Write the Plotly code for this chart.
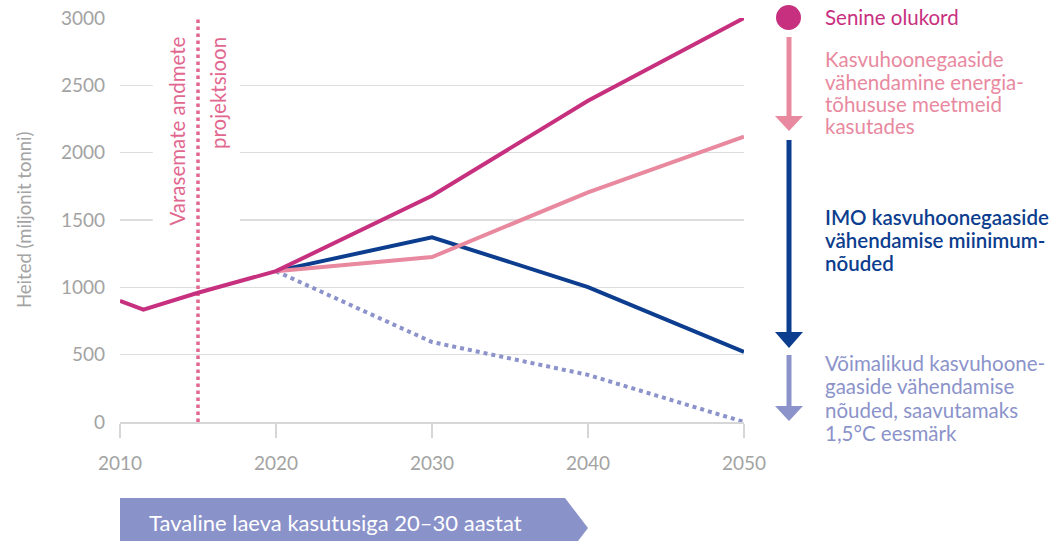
import plotly.graph_objects as go

# ---- data ----
years_hist = [2010, 2011.5, 2015, 2020]
senine_hist = [900, 835, 960, 1120]
years_proj = [2020, 2030, 2040, 2050]
senine_proj = [1120, 1680, 2385, 3000]
efficiency = [1120, 1225, 1705, 2120]
imo_min = [1120, 1372, 1002, 520]
paris_15 = [1120, 594, 350, 0]
projection_year = 2015
x_ticks = [2010, 2020, 2030, 2040, 2050]
y_ticks = [0, 500, 1000, 1500, 2000, 2500, 3000]

C_MAG = "#C7307F"
C_PINK = "#E8899F"
C_NAVY = "#0C3D8E"
C_LBLUE = "#8B93CA"
C_VLINE = "#E2678F"
C_GRAY = "#A3A3A3"
C_GRID = "#DDDDDD"
FONT = "Lato"

W, H = 1056, 541
L, R, T, B = 120, 312, 18, 119
PW, PH = W - L - R, H - T - B
X0, Y1 = 120, 422  # plot-area left / bottom in page pixels


def px(xp):
    return (xp - X0) / PW


def py(yp):
    return (Y1 - yp) / PH


fig = go.Figure()

fig.add_trace(go.Scatter(x=[projection_year, projection_year], y=[0, 3000], mode="lines",
                         line=dict(color=C_VLINE, width=3.5, dash="dot"), hoverinfo="skip"))
fig.add_trace(go.Scatter(x=years_proj, y=paris_15, mode="lines",
                         line=dict(color=C_LBLUE, width=4, dash="4px,4px"), hoverinfo="skip"))
fig.add_trace(go.Scatter(x=years_proj, y=imo_min, mode="lines",
                         line=dict(color=C_NAVY, width=4), hoverinfo="skip"))
fig.add_trace(go.Scatter(x=years_proj, y=efficiency, mode="lines",
                         line=dict(color=C_PINK, width=4), hoverinfo="skip"))
fig.add_trace(go.Scatter(x=years_hist + years_proj[1:], y=senine_hist + senine_proj[1:], mode="lines",
                         line=dict(color=C_MAG, width=4), hoverinfo="skip"))

shapes = []
shapes.append(dict(type="rect", xref="x", yref="y", x0=2012.1, x1=2017.7, y0=1400, y1=2620,
                   fillcolor="white", line=dict(width=0), layer="between"))

shapes.append(dict(type="circle", xref="paper", yref="paper", x0=px(776), x1=px(801),
                   y0=py(30), y1=py(5), fillcolor=C_MAG, line=dict(width=0)))


def arrow(color, y_start, y_head, y_tip):
    shapes.append(dict(type="line", xref="paper", yref="paper", x0=px(789), x1=px(789),
                       y0=py(y_start), y1=py(y_head + 2), line=dict(color=color, width=5)))
    path = "M {} {} L {} {} L {} {} Z".format(px(775), py(y_head), px(803), py(y_head), px(789), py(y_tip))
    shapes.append(dict(type="path", xref="paper", yref="paper", path=path,
                       fillcolor=color, line=dict(width=0)))


arrow(C_PINK, 37, 116, 131)
arrow(C_NAVY, 140, 332, 348)
arrow(C_LBLUE, 355, 406, 421)

bp = "M {} {} L {} {} L {} {} L {} {} L {} {} Z".format(
    px(120), py(498), px(565), py(498), px(588), py(528), px(565), py(558), px(120), py(558))
shapes.append(dict(type="path", xref="paper", yref="paper", path=bp,
                   fillcolor="#8A92CA", line=dict(width=0)))

annotations = []


def label(text, yp, color, size=20.5, weight=None):
    f = dict(family=FONT, size=size, color=color)
    if weight:
        f["weight"] = weight
    annotations.append(dict(text=text, xref="paper", yref="paper", x=px(823), y=py(yp),
                            xanchor="left", yanchor="middle", showarrow=False, font=f))


label("Senine olukord", 17, C_MAG)
for t, yy in zip(["Kasvuhoonegaaside", "vähendamine energia-", "tõhususe meetmeid", "kasutades"],
                 [59, 82, 104, 126]):
    label(t, yy, C_PINK)
for t, yy in zip(["IMO kasvuhoonegaaside", "vähendamise miinimum-", "nõuded"], [217, 240, 263]):
    label(t, yy, C_NAVY, weight=600)
for t, yy in zip(["Võimalikud kasvuhoone-", "gaaside vähendamise", "nõuded, saavutamaks", "1,5°C eesmärk"],
                 [363, 386, 410, 433]):
    label(t, yy, C_LBLUE)

annotations.append(dict(text="Varasemate andmete", xref="paper", yref="paper", x=px(176), y=py(35),
                        xanchor="center", yanchor="top", textangle=-90, showarrow=False,
                        font=dict(family=FONT, size=20.5, color=C_VLINE)))
annotations.append(dict(text="projektsioon", xref="paper", yref="paper", x=px(218), y=py(35),
                        xanchor="center", yanchor="top", textangle=-90, showarrow=False,
                        font=dict(family=FONT, size=20.5, color=C_VLINE)))

annotations.append(dict(text="Heited (miljonit tonni)", xref="paper", yref="paper", x=px(24), y=0.5,
                        xanchor="center", yanchor="middle", textangle=-90, showarrow=False,
                        font=dict(family=FONT, size=18.5, color=C_GRAY)))

annotations.append(dict(text="Tavaline laeva kasutusiga 20–30 aastat", xref="paper", yref="paper",
                        x=px(147), y=py(522), xanchor="left", yanchor="middle", showarrow=False,
                        font=dict(family=FONT, size=22, color="white")))

fig.update_layout(
    width=W, height=H, margin=dict(l=L, r=R, t=T, b=B, autoexpand=False),
    paper_bgcolor="white", plot_bgcolor="white", showlegend=False,
    shapes=shapes, annotations=annotations,
    xaxis=dict(range=[2010, 2050], tickvals=x_ticks, showgrid=False, zeroline=False,
               showline=True, linecolor="#D6D6D6", linewidth=1.5,
               ticks="outside", ticklen=14, tickwidth=1.5, tickcolor="#D6D6D6",
               ticklabelstandoff=10, ticklabeloverflow="allow",
               tickfont=dict(family=FONT, size=19, color=C_GRAY)),
    yaxis=dict(range=[0, 3000], tickvals=y_ticks, showgrid=True, gridcolor=C_GRID, gridwidth=1.5,
               zeroline=False, showline=False, ticks="", ticklabelstandoff=14,
               ticklabeloverflow="allow",
               tickfont=dict(family=FONT, size=19, color=C_GRAY)),
)

fig.write_html("out.html", config={"displayModeBar": False, "staticPlot": True},
               post_script="document.body.style.margin='0';")
